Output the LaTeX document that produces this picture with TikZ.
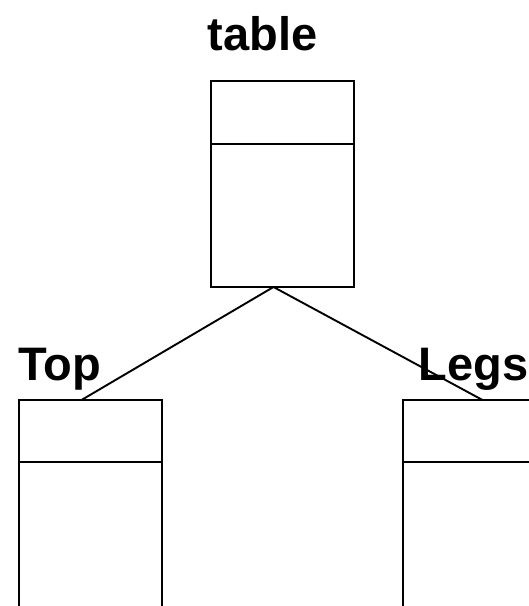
\documentclass[tikz,border=0pt]{standalone}
\usepackage{fontspec}
\setmainfont{Liberation Sans}
\usepackage{tikz}
\usetikzlibrary{calc}
\tikzset{
	box/.style={draw, line width=1.9pt, minimum width=143pt, minimum height=206pt, inner sep=0pt, outer sep=0pt, anchor=north west},
	lowbox/.style={box, minimum height=230pt},
	lbl/.style={font=\fontsize{47}{50}\selectfont\bfseries, inner sep=0pt, anchor=base},
	link/.style={line width=1.9pt}
}

\begin{document}
\begin{tikzpicture}[x=1pt,y=-1pt]
			%%%%% START %%%%%
			
			\clip (0,0) rectangle (529,606);
			
			\node[box] (table) at (211,81) {};
			\draw[link] ([yshift=-63pt]table.north west) -- ([yshift=-63pt]table.north east);
			\node[lbl] (tablelbl) at (262.5,50) {table};
			
			\node[lowbox] (top) at (19,400) {};
			\draw[link] ([yshift=-62pt]top.north west) -- ([yshift=-62pt]top.north east);
			\node[lbl] (toplbl) at (60,380) {Top};
			
			\node[lowbox] (legs) at (403,400) {};
			\draw[link] ([yshift=-62pt]legs.north west) -- ([yshift=-62pt]legs.north east);
			\node[lbl] (legslbl) at (473.5,380) {Legs};
			
			\draw[link] ([xshift=-9pt]table.south) -- ([xshift=-9pt]top.north);
			\draw[link] ([xshift=-9pt]table.south) -- ([xshift=8pt]legs.north);
			
			%%%%% END %%%%%
\end{tikzpicture}
\end{document}
